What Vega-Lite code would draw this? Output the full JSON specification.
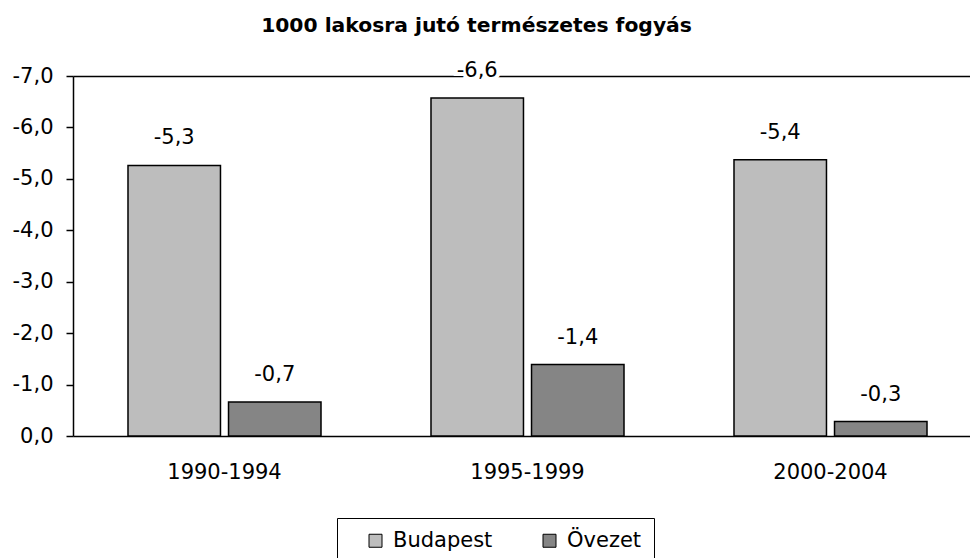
{
  "$schema": "https://vega.github.io/schema/vega-lite/v6.json",
  "width": 897,
  "height": 360,
  "autosize": {"type": "none"},
  "padding": {"left": 73, "top": 76, "right": 0, "bottom": 122},
  "background": "white",
  "title": {"text": "1000 lakosra jutó természetes fogyás", "fontSize": 20.3, "font": "DejaVu Sans", "fontWeight": "bold", "anchor": "middle", "frame": "group", "dx": -45, "offset": 24, "color": "black"},
  "data": {"values": [
    {"period": "1990-1994", "series": "Budapest", "value": -5.26},
    {"period": "1990-1994", "series": "Övezet", "value": -0.66},
    {"period": "1995-1999", "series": "Budapest", "value": -6.57},
    {"period": "1995-1999", "series": "Övezet", "value": -1.39},
    {"period": "2000-2004", "series": "Budapest", "value": -5.37},
    {"period": "2000-2004", "series": "Övezet", "value": -0.28}
  ]},
  "encoding": {
    "x": {"field": "period", "type": "nominal", "sort": null,
      "scale": {"range": [0, 909], "paddingInner": 0.363, "paddingOuter": 0.1815},
      "axis": {"title": null, "labelAngle": 0, "ticks": false, "domainColor": "black", "domainWidth": 1.5, "labelFontSize": 21, "labelFont": "DejaVu Sans", "labelColor": "black", "labelPadding": 25}},
    "xOffset": {"field": "series", "type": "nominal", "sort": ["Budapest", "Övezet"], "scale": {"paddingInner": 0.08, "paddingOuter": 0}},
    "y": {"field": "value", "type": "quantitative",
      "scale": {"domain": [-7, 0], "reverse": true, "nice": false},
      "axis": {"title": null, "values": [0, -1, -2, -3, -4, -5, -6, -7], "format": ".1f", "grid": true,
        "gridColor": {"condition": {"test": "datum.value === -7", "value": "black"}, "value": "transparent"},
        "gridWidth": 1.5, "domainColor": "black", "domainWidth": 1.5, "tickColor": "black", "tickSize": 7, "tickWidth": 1.5,
        "labelFontSize": 21, "labelFont": "DejaVu Sans", "labelColor": "black", "labelPadding": 13}}
  },
  "layer": [
    {"mark": {"type": "bar", "stroke": "black", "strokeWidth": 1.5},
     "encoding": {"fill": {"field": "series", "type": "nominal",
       "scale": {"domain": ["Budapest", "Övezet"], "range": ["#bdbdbd", "#858585"]},
       "legend": {"orient": "none", "legendX": 264, "legendY": 442, "direction": "horizontal", "title": null,
         "strokeColor": "black", "fillColor": "white", "padding": 12, "symbolType": "square", "symbolSize": 169,
         "symbolStrokeColor": "black", "symbolStrokeWidth": 1, "symbolOffset": 16,
         "labelFontSize": 21, "labelFont": "DejaVu Sans", "labelColor": "black", "labelOffset": 7, "columnPadding": 30}}}},
    {"mark": {"type": "text", "stroke": "white", "strokeWidth": 8, "fill": "white", "baseline": "middle", "dy": -27, "fontSize": 21, "font": "DejaVu Sans"},
     "encoding": {"text": {"field": "value", "type": "quantitative", "format": ".1f"}}},
    {"mark": {"type": "text", "fill": "black", "baseline": "middle", "dy": -27, "fontSize": 21, "font": "DejaVu Sans"},
     "encoding": {"text": {"field": "value", "type": "quantitative", "format": ".1f"}}}
  ],
  "config": {
    "view": {"stroke": null},
    "font": "DejaVu Sans",
    "locale": {"number": {"decimal": ",", "thousands": ".", "grouping": [3], "currency": ["", ""], "minus": "-"}}
  }
}
